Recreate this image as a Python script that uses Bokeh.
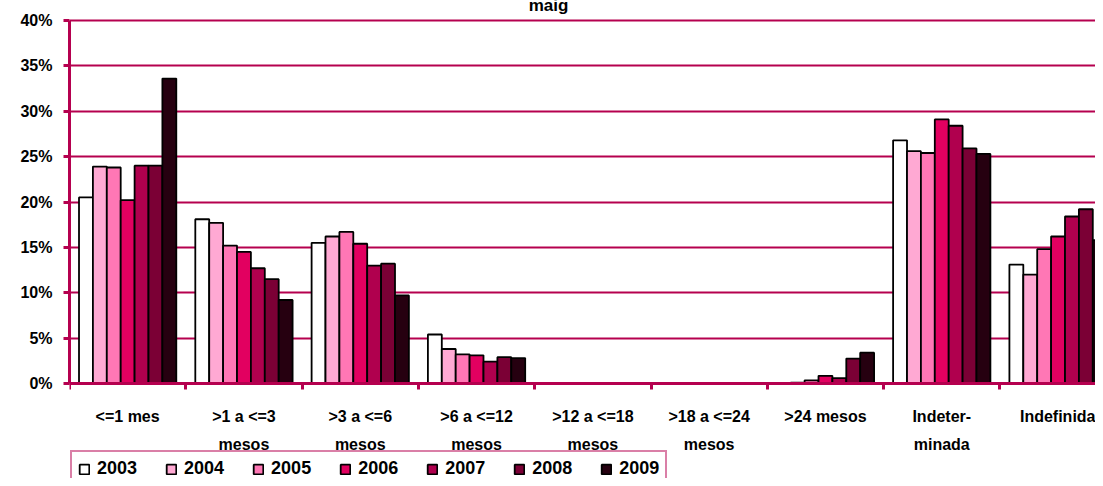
from bokeh.plotting import figure
from bokeh.models import (ColumnDataSource, Range1d, FixedTicker, PrintfTickFormatter,
                          Legend, LegendItem, Label)
from bokeh.transform import dodge
from bokeh.embed import file_html
from bokeh.resources import INLINE

# ---- data ----
categories = ["<=1 mes", ">1 a <=3\nmesos", ">3 a <=6\nmesos", ">6 a <=12\nmesos",
              ">12 a <=18\nmesos", ">18 a <=24\nmesos", ">24 mesos",
              "Indeter-\nminada", "Indefinida"]
years = ["2003", "2004", "2005", "2006", "2007", "2008", "2009"]
v2003 = [20.5, 18.1, 15.5, 5.4, 0.0, 0.0, 0.0, 26.8, 13.1]
v2004 = [23.9, 17.7, 16.2, 3.8, 0.0, 0.0, 0.1, 25.6, 12.0]
v2005 = [23.8, 15.2, 16.7, 3.2, 0.0, 0.0, 0.35, 25.4, 14.8]
v2006 = [20.2, 14.5, 15.4, 3.1, 0.0, 0.0, 0.85, 29.1, 16.2]
v2007 = [24.0, 12.7, 13.0, 2.4, 0.0, 0.0, 0.6, 28.4, 18.4]
v2008 = [24.0, 11.5, 13.2, 2.9, 0.0, 0.0, 2.75, 25.9, 19.2]
v2009 = [33.6, 9.2, 9.7, 2.8, 0.0, 0.0, 3.4, 25.3, 15.8]
y_ticks = [0, 5, 10, 15, 20, 25, 30, 35, 40]
title_text = "maig"

series = [v2003, v2004, v2005, v2006, v2007, v2008, v2009]
colors = ["#FFFFFF", "#FFA9D3", "#FF77B5", "#E20060", "#B0004E", "#7B0035", "#260010"]
MAG = "#B5004F"
FONT = "Liberation Sans"

centers = [i + 0.5 for i in range(len(categories))]
data = {"x": centers}
for yr, vals in zip(years, series):
    data["y" + yr] = vals
src = ColumnDataSource(data)

# frame spans the whole canvas height; 0% sits 95px above the bottom, 40% 20px below the top
p = figure(width=1095, height=478, output_backend="svg", toolbar_location=None,
           x_range=Range1d(0, 8.822), y_range=Range1d(-10.468, 42.204),
           min_border_left=69, min_border_right=0, min_border_top=0, min_border_bottom=0)
p.outline_line_color = None
p.background_fill_color = "white"
p.xgrid.grid_line_color = None
p.ygrid.grid_line_color = MAG
p.ygrid.grid_line_width = 2
p.ygrid.ticker = FixedTicker(ticks=y_ticks)

bw = 0.1195
items = []
for j, yr in enumerate(years):
    r = p.vbar(x=dodge("x", (j - 3) * bw, range=p.x_range), top="y" + yr, width=bw,
               bottom=0, source=src, fill_color=colors[j], line_color="black", line_width=1.8)
    items.append(LegendItem(label=yr, renderers=[r]))

# y axis
ya = p.yaxis[0]
ya.ticker = FixedTicker(ticks=y_ticks)
ya.bounds = (0, 40)
ya.formatter = PrintfTickFormatter(format="%d%%")
ya.axis_line_color = MAG
ya.axis_line_width = 3
ya.major_tick_line_color = MAG
ya.major_tick_line_width = 3
ya.major_tick_out = 6
ya.major_tick_in = 0
ya.minor_tick_line_color = None
ya.major_label_standoff = 11
ya.major_label_text_font = FONT
ya.major_label_text_font_style = "bold"
ya.major_label_text_font_size = "16px"
ya.major_label_text_color = "black"

# x axis, drawn at 0%
xa = p.xaxis[0]
xa.fixed_location = 0
xa.ticker = FixedTicker(ticks=centers, minor_ticks=list(range(len(categories) + 1)))
xa.major_label_overrides = {c: lab for c, lab in zip(centers, categories)}
xa.axis_line_color = MAG
xa.axis_line_width = 3
xa.major_tick_line_color = None
xa.major_tick_out = 0
xa.major_tick_in = 0
xa.minor_tick_line_color = MAG
xa.minor_tick_line_width = 3
xa.minor_tick_out = 6
xa.minor_tick_in = 0
xa.major_label_standoff = 18
xa.major_label_text_font = FONT
xa.major_label_text_font_style = "bold"
xa.major_label_text_font_size = "16px"
xa.major_label_text_color = "black"
xa.major_label_text_line_height = 1.7

legend = Legend(items=items, orientation="horizontal", location=(1, -9),
                glyph_width=12, glyph_height=12, label_standoff=7, spacing=28,
                padding=6, margin=0,
                label_text_font=FONT, label_text_font_style="bold",
                label_text_font_size="18px", label_text_color="black",
                border_line_color=MAG, border_line_width=2,
                background_fill_color="white", background_fill_alpha=1)
p.add_layout(legend, "center")

title = Label(x=479, y=473, x_units="screen", y_units="screen", text=title_text,
              text_font=FONT, text_font_style="bold", text_font_size="17px",
              text_align="center", text_baseline="alphabetic", text_color="black")
p.add_layout(title)

open("out.html", "w").write(file_html(p, INLINE))
